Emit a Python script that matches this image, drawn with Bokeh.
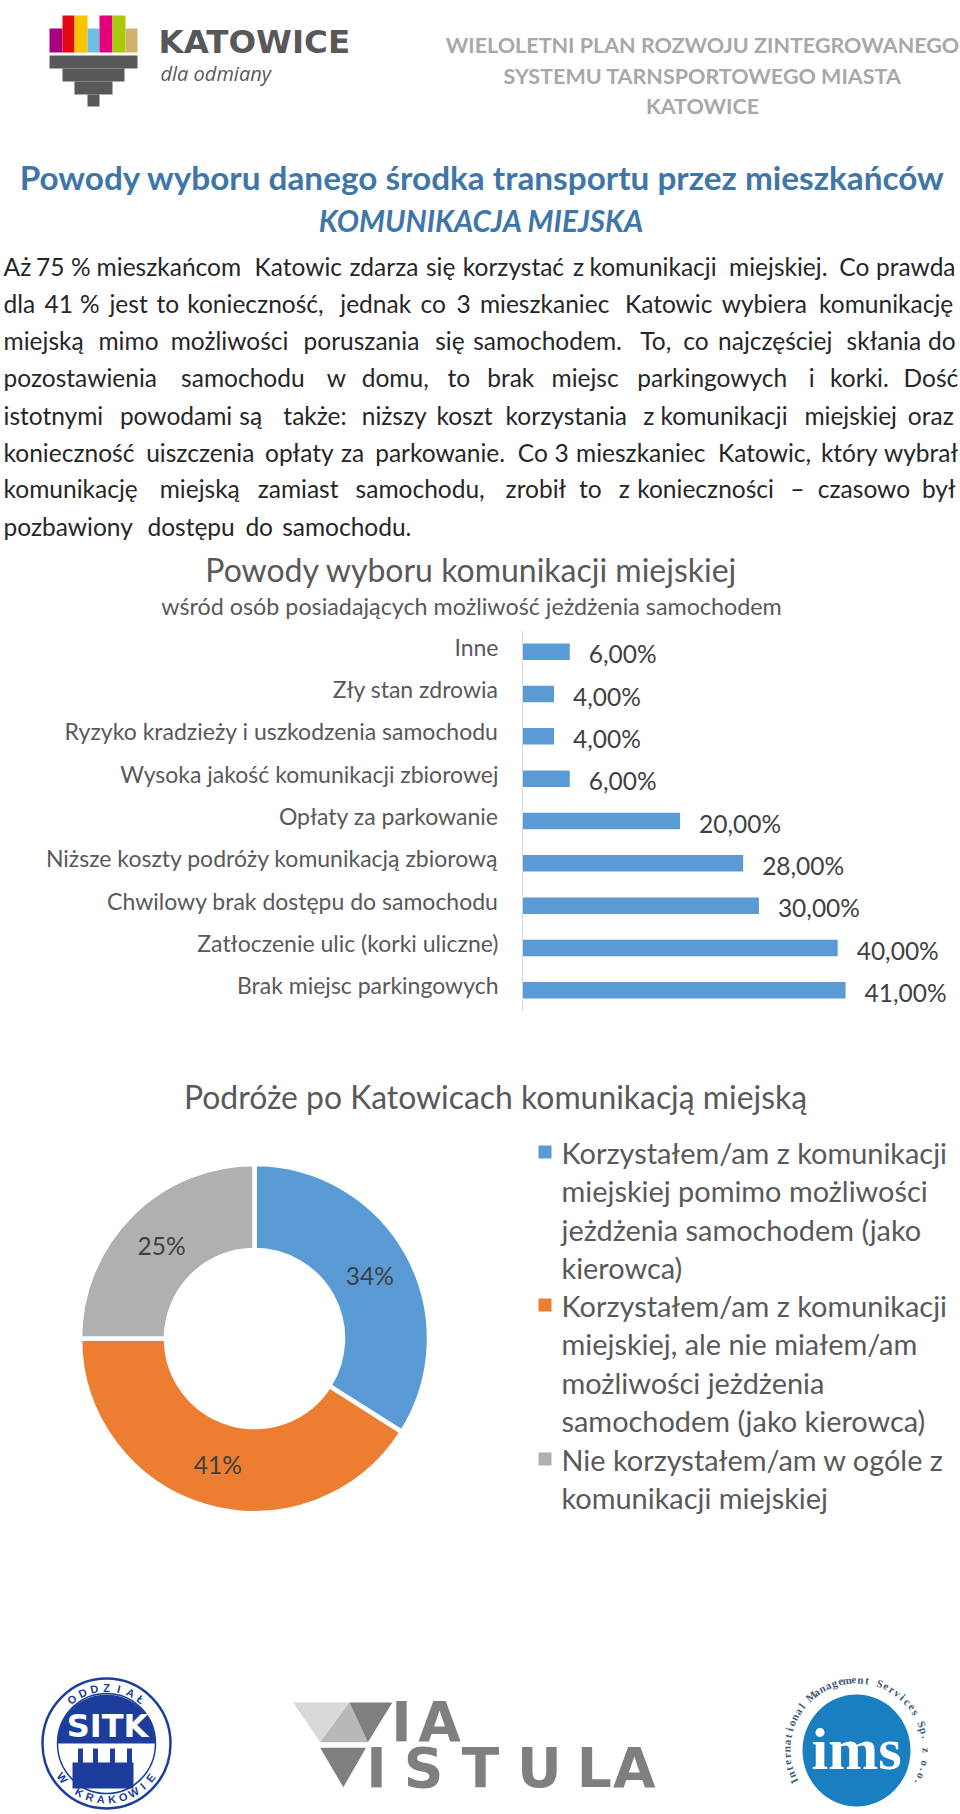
import math
from bokeh.plotting import figure
from bokeh.layouts import column
from bokeh.models import FactorRange, ColumnDataSource, Span
from bokeh.core.properties import value
from bokeh.embed import file_html
from bokeh.resources import INLINE

# ---------- data ----------
bar_categories = ["Inne", "Zły stan zdrowia", "Ryzyko kradzieży i uszkodzenia samochodu",
                  "Wysoka jakość komunikacji zbiorowej", "Opłaty za parkowanie",
                  "Niższe koszty podróży komunikacją zbiorową", "Chwilowy brak dostępu do samochodu",
                  "Zatłoczenie ulic (korki uliczne)", "Brak miejsc parkingowych"]
bar_values = [6, 4, 4, 6, 20, 28, 30, 40, 41]
bar_labels = ["6,00%", "4,00%", "4,00%", "6,00%", "20,00%", "28,00%", "30,00%", "40,00%", "41,00%"]
donut_values = [34, 41, 25]
donut_labels = ["34%", "41%", "25%"]
donut_colors = ["#5b9bd5", "#ed7d31", "#b0b0b0"]
legend_lines = [
    ["Korzystałem/am z komunikacji", "miejskiej pomimo możliwości", "jeżdżenia samochodem (jako", "kierowca)"],
    ["Korzystałem/am z komunikacji", "miejskiej, ale nie miałem/am", "możliwości jeżdżenia", "samochodem (jako kierowca)"],
    ["Nie korzystałem/am w ogóle z", "komunikacji miejskiej"],
]
body_lines = [
    (266, [("Aż",5),("75",58),("%",115),("mieszkańcom",157),("Katowic",415),("zdarza",570),("się",695),("korzystać",755),("z",935),("komunikacji",962),("miejskiej.",1190),("Co",1370),("prawda",1430)]),
    (303, [("dla",5),("41",72),("%",130),("jest",178),("to",255),("konieczność,",305),("jednak",555),("co",686),("3",745),("mieszkaniec",783),("Katowic",1020),("wybiera",1178),("komunikację",1337)]),
    (340, [("miejską",5),("mimo",160),("możliwości",278),("poruszania",495),("się",710),("samochodem.",772),("To,",1045),("co",1115),("najczęściej",1172),("skłania",1382),("do",1515)]),
    (377, [("pozostawienia",5),("samochodu",295),("w",533),("domu,",590),("to",730),("brak",795),("miejsc",900),("parkingowych",1040),("i",1320),("korki.",1355),("Dość",1475)]),
    (415, [("istotnymi",5),("powodami",195),("są",390),("także:",462),("niższy",590),("koszt",712),("korzystania",825),("z",1050),("komunikacji",1078),("miejskiej",1313),("oraz",1482)]),
    (452, [("konieczność",5),("uiszczenia",238),("opłaty",432),("za",556),("parkowanie.",612),("Co",845),("3",905),("mieszkaniec",940),("Katowic,",1172),("który",1340),("wybrał",1443)]),
    (488, [("komunikację",5),("miejską",260),("zamiast",420),("samochodu,",580),("zrobił",825),("to",945),("z",1010),("konieczności",1040),("–",1290),("czasowo",1335),("był",1505)]),
    (526, [("pozbawiony",5),("dostępu",240),("do",400),("samochodu.",460)]),
]
ZX = 960 / 1568

FONT = "Lato"


def page_fig(top, bottom):
    p = figure(width=960, height=bottom - top, x_range=(0, 960), y_range=(bottom, top),
               x_axis_type=None, y_axis_type=None, toolbar_location=None, output_backend="svg",
               min_border=0, outline_line_color=None, background_fill_color="white", border_fill_color="white")
    p.grid.visible = False
    return p


def txt(p, x, y, s, size, color, align="left", style="normal", font=FONT, angle=0.0):
    p.text([x], [y], text=[s], text_font=value(font), text_font_size=f"{size}px", text_color=color,
           text_align=align, text_baseline="middle", text_font_style=style, angle=angle)


def arc_text(p, s, cx, cy, r, a0, a1, size, color, font, bottom=False, style="bold"):
    n = len(s)
    for i, ch in enumerate(s):
        a = a0 + (a1 - a0) * i / max(n - 1, 1)
        t = math.radians(a)
        x, y = cx + r * math.sin(t), cy - r * math.cos(t)
        rot = math.radians(180 - a) if bottom else math.radians(-a)
        txt(p, x, y, ch, size, color, "center", style, font, rot)


# ---------- header ----------
h = page_fig(0, 625)
logo_bars = [(49, 62, 28, "#a6007f"), (62, 74, 15, "#e30613"), (74, 87, 15, "#fdc300"), (87, 99, 28, "#6cc0e5"),
             (99, 112, 15, "#e5007e"), (112, 125, 15, "#a9c90c"), (125, 137, 28, "#cfb26b")]
for x0, x1, y0, c in logo_bars:
    h.quad(left=[x0], right=[x1], top=[y0], bottom=[52], fill_color=c, line_color=None)
for x0, x1, y0, y1 in [(49, 137, 55, 68), (62, 124, 68, 81), (74, 112, 81, 94), (87, 99, 94, 106)]:
    h.quad(left=[x0], right=[x1], top=[y0], bottom=[y1], fill_color="#58585a", line_color=None)
txt(h, 158, 41, "KATOWICE", 32.5, "#58585a", style="bold", font="DejaVu Sans")
txt(h, 160, 73, "dla odmiany", 20, "#58585a", style="italic", font="Open Sans")

for y, s in [(44, "WIELOLETNI PLAN ROZWOJU ZINTEGROWANEGO"), (75, "SYSTEMU TARNSPORTOWEGO MIASTA"), (105.5, "KATOWICE")]:
    txt(h, 702, y, s, 21.5, "#a8a8a8", "center", "bold")

txt(h, 482, 176, "Powody wyboru danego środka transportu przez mieszkańców", 33.3, "#3f76a8", "center", "bold")
txt(h, 481, 220, "KOMUNIKACJA MIEJSKA", 29.6, "#3f76a8", "center", "bold italic")

for y, words in body_lines:
    for w, zx in words:
        txt(h, zx * ZX, y, w, 24.5, "#262626")

txt(h, 471, 569, "Powody wyboru komunikacji miejskiej", 32, "#595959", "center")
txt(h, 471, 605, "wśród osób posiadających możliwość jeżdżenia samochodem", 23.3, "#595959", "center")

# ---------- bars ----------
PX_PER_PCT = 7.88
b = figure(width=960, height=435, y_range=FactorRange(factors=bar_categories[::-1]),
           x_range=(-522 / PX_PER_PCT, 438 / PX_PER_PCT),
           x_axis_type=None, y_axis_type=None, toolbar_location=None, output_backend="svg", outline_line_color=None,
           min_border_left=0, min_border_right=0, min_border_top=5, min_border_bottom=49)
b.grid.visible = False
b.add_layout(Span(location=0, dimension="height", line_color="#d9d9d9", line_width=1))
src = ColumnDataSource(dict(y=bar_categories, v=bar_values, t=bar_labels))
b.hbar(y="y", left=0, right="v", height=0.39, source=src, fill_color="#5b9bd5", line_color=None)
b.text(x=0, y="y", text="y", source=src, x_offset=-24, y_offset=-5, text_font=value(FONT), text_font_size="23px",
       text_color="#595959", text_baseline="middle", text_align="right")
b.text(x="v", y="y", text="t", source=src, x_offset=19, y_offset=2, text_font=value(FONT), text_font_size="24.5px",
       text_color="#404040", text_baseline="middle")

# ---------- donut ----------
d = page_fig(1060, 1640)
txt(d, 495, 1096, "Podróże po Katowicach komunikacją miejską", 31.9, "#595959", "center")
cx, cy, r_out, r_in = 254, 1338, 174.5, 88.5
total = sum(donut_values)
cum = 0.0
for v, c, lab in zip(donut_values, donut_colors, donut_labels):
    a0, a1 = cum / total, (cum + v) / total
    d.annular_wedge(x=[cx], y=[cy], inner_radius=r_in, outer_radius=r_out, inner_radius_units="screen",
                    outer_radius_units="screen", start_angle=[math.pi / 2 - a0 * 2 * math.pi],
                    end_angle=[math.pi / 2 - a1 * 2 * math.pi], direction="clock",
                    fill_color=c, line_color="white", line_width=4.5)
    m = (a0 + a1) / 2 * 2 * math.pi
    rm = (r_in + r_out) / 2
    txt(d, cx + rm * math.sin(m), cy - rm * math.cos(m), lab, 24.5, "#404040", "center")
    cum += v

leg_y = [[1151.5, 1189.5, 1228.5, 1266.5], [1304.5, 1342.5, 1381.5, 1419.5], [1458.5, 1496.5]]
for lines, ys, c in zip(legend_lines, leg_y, donut_colors):
    d.quad(left=[538], right=[551], top=[ys[0] - 6.5], bottom=[ys[0] + 6.5], fill_color=c, line_color=None)
    for s, y in zip(lines, ys):
        txt(d, 561, y, s, 28.9, "#595959")

# ---------- footer ----------
f = page_fig(1640, 1814)
NAVY = "#1c3d9c"
f.ellipse(x=[106], y=[1743], width=128, height=130, fill_color="white", line_color=NAVY, line_width=2.5)
f.ellipse(x=[106], y=[1743], width=98, height=100, fill_color="white", line_color=NAVY, line_width=1.5)
f.wedge(x=[106], y=[1743], radius=49, radius_units="screen", start_angle=[0], end_angle=[math.pi],
        fill_color=NAVY, line_color=None)
txt(f, 107, 1725, "SITK", 32, "white", "center", "bold", "DejaVu Sans")
f.quad(left=[72], right=[133], top=[1762], bottom=[1788], fill_color=NAVY, line_color=None)
for tx in [80, 95, 112, 129]:
    f.quad(left=[tx - 2.5], right=[tx + 2.5], top=[1748], bottom=[1764], fill_color=NAVY, line_color=None)
arc_text(f, "ODDZIAŁ", 106, 1743, 56, -38, 38, 11, NAVY, "Liberation Sans")
arc_text(f, "W KRAKOWIE", 106, 1743, 56, 232, 128, 11, NAVY, "Liberation Sans", bottom=True)

GR = "#7f7f7f"
def poly(p, xs, ys, c):
    p.patch([x * ZX for x in xs], [1640 + y / 3 for y in ys], fill_color=c, line_color=None)
poly(f, [478, 570, 522], [186, 186, 305], "#d9d9d9")
poly(f, [522, 570, 600], [305, 186, 305], "#b8b8b8")
poly(f, [570, 640, 600], [186, 186, 305], GR)
poly(f, [522, 597, 560], [322, 322, 440], GR)
for ch, zx, zy in [("I", 655, 245), ("A", 717, 245), ("I", 614, 382), ("S", 691, 382), ("T", 784, 382),
                   ("U", 880, 382), ("L", 970, 382), ("A", 1035, 382)]:
    txt(f, zx * ZX, 1640 + zy / 3, ch, 55, GR, "center", "bold", "DejaVu Sans")

f.ellipse(x=[856], y=[1750], width=108, height=112, fill_color="#1a7fc1", line_color=None)
txt(f, 856, 1748, "ims", 60, "white", "center", "bold", "Liberation Serif")
arc_text(f, "International Management Services Sp. z o.o.", 856, 1749, 70, -117, 118, 11, "#3b5a78", "Liberation Serif")

layout = column(h, b, d, f, spacing=0, margin=0)
open("out.html", "w").write(file_html(layout, INLINE))
